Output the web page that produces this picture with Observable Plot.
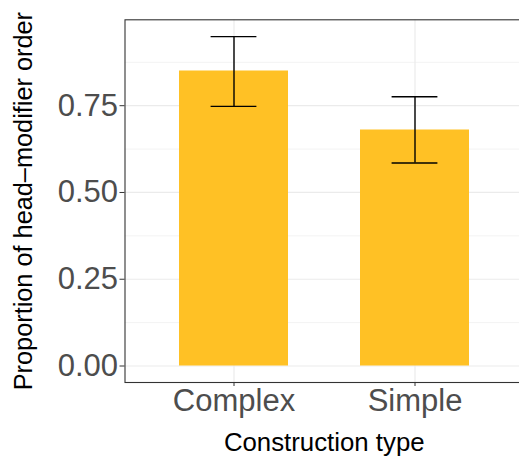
<!DOCTYPE html>
<html>
<head>
<meta charset="utf-8">
<script src="https://cdn.jsdelivr.net/npm/d3@7"></script>
<script src="https://cdn.jsdelivr.net/npm/@observablehq/plot@0.6"></script>
<style>
html, body { margin: 0; padding: 0; background: #fff; overflow: hidden; }
#chart { width: 519px; height: 456px; overflow: hidden; }
</style>
</head>
<body>
<div id="chart"></div>
<script>
const categories = ["Complex", "Simple"];
const proportions = [0.85, 0.68];
const lowerCI = [0.748, 0.585];
const upperCI = [0.949, 0.776];
const yMajor = [0, 0.25, 0.5, 0.75];
const yMinor = [0.125, 0.375, 0.625, 0.875];
const yTickLabels = ["0.00", "0.25", "0.50", "0.75"];
const xTitle = "Construction type";
const yTitle = "Proportion of head–modifier order";

const data = categories.map((c, i) => ({type: c, p: proportions[i], lo: lowerCI[i], hi: upperCI[i]}));
const font = "'Liberation Sans', Arial, Helvetica, sans-serif";
const grid = "#EBEBEB";

const chart = Plot.plot({
  width: 519,
  height: 456,
  marginLeft: 124.5,
  marginRight: -4,
  marginTop: 19.3,
  marginBottom: 74,
  style: {fontFamily: font, background: "#fff", overflow: "hidden"},
  x: {domain: categories, paddingInner: 0.4, paddingOuter: 0.3, label: null},
  y: {domain: [-0.0475, 0.9975], label: null},
  marks: [
    Plot.ruleY(yMinor, {stroke: grid, strokeWidth: 0.6}),
    Plot.ruleY(yMajor, {stroke: grid, strokeWidth: 1.2}),
    Plot.ruleX(categories, {x: d => d, stroke: grid, strokeWidth: 1.2}),
    Plot.barY(data, {x: "type", y: "p", fill: "#FFC125"}),
    Plot.ruleX(data, {x: "type", y1: "lo", y2: "hi", stroke: "#000", strokeWidth: 1.4}),
    Plot.tickY(data, {x: "type", y: "lo", inset: 31.6, stroke: "#000", strokeWidth: 1.4}),
    Plot.tickY(data, {x: "type", y: "hi", inset: 31.6, stroke: "#000", strokeWidth: 1.4}),
    Plot.frame({stroke: "#333", strokeWidth: 1.1}),
    Plot.axisY({ticks: yMajor, tickFormat: (d, i) => yTickLabels[yMajor.indexOf(d)], tickSize: 5, tickPadding: 2, fontSize: 31, stroke: "#333", fill: "#4D4D4D", label: null}),
    Plot.axisX({tickSize: 4, tickPadding: 2, fontSize: 31, stroke: "#333", fill: "#4D4D4D", label: null}),
    Plot.text([xTitle], {frameAnchor: "bottom", text: d => d, dy: 60, lineAnchor: "middle", textAnchor: "middle", fontSize: 25.8, fill: "#000"}),
    Plot.text([yTitle], {frameAnchor: "left", text: d => d, dx: -101, rotate: -90, lineAnchor: "middle", textAnchor: "middle", fontSize: 25.3, fill: "#000"})
  ]
});
document.getElementById("chart").appendChild(chart);
</script>
</body>
</html>
